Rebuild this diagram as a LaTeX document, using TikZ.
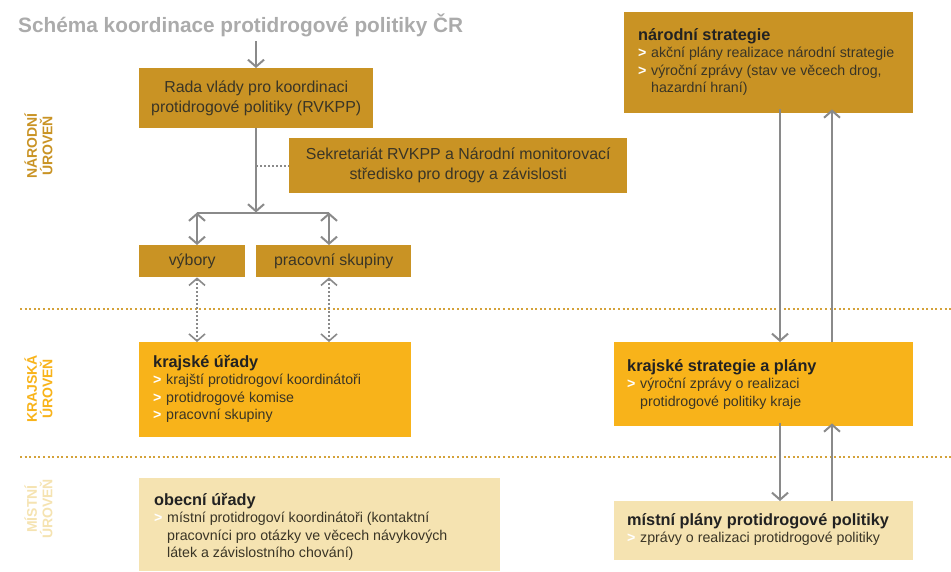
\documentclass[tikz,border=0pt]{standalone}
\usepackage{fontspec}
\setmainfont{Liberation Sans}
\usetikzlibrary{arrows.meta}
\definecolor{gdark}{HTML}{C99324}
\definecolor{gbright}{HTML}{F8B31A}
\definecolor{glight}{HTML}{F5E3B1}
\definecolor{agray}{HTML}{8A8A8A}
\definecolor{tgray}{HTML}{ABABAB}
\definecolor{txt}{HTML}{3A3526}
\definecolor{head}{HTML}{222222}
\definecolor{sepc}{HTML}{D4A23A}
\newcommand{\blt}{\makebox[13pt][l]{\textcolor{white}{\bfseries >}}}
\newcommand{\ind}{\hspace*{13pt}}
\newcommand{\hd}[1]{{\fontsize{16.3}{18}\selectfont\bfseries\color{head}#1}}
\newcommand{\lst}[1]{\parbox[t]{300pt}{\raggedright\fontsize{14.2}{17.6}\selectfont\leavevmode #1}}
\begin{document}
\begin{tikzpicture}[x=1pt,y=-1pt,
  boxshape/.style={inner sep=0pt, anchor=north west, draw=none},
  ctext/.style={align=center, text=txt, font=\fontsize{15.9}{20}\selectfont},
  ltext/.style={inner sep=0pt, anchor=base west, text=txt},
  lab/.style={rotate=90, align=center, inner sep=0pt, font=\fontsize{14}{15.5}\selectfont\bfseries},
  arr/.style={draw=agray, line width=2pt, -{Straight Barb[length=7pt,width=16pt]}},
  darr/.style={draw=agray, line width=2pt, {Straight Barb[length=7pt,width=16pt]}-{Straight Barb[length=7pt,width=16pt]}},
  dotarr/.style={draw=agray, line width=1.6pt, dash pattern=on 1.6pt off 2.4pt, {Straight Barb[length=7pt,width=16pt]}-{Straight Barb[length=7pt,width=16pt]}},
  sep/.style={draw=sepc, line width=2pt, dash pattern=on 2pt off 2.6pt},
  dotline/.style={draw=agray, line width=1.6pt, dash pattern=on 1.6pt off 2.4pt}]
\useasboundingbox (0,0) rectangle (951,571);

% separators
\coordinate (s1a) at (20,309); \coordinate (s1b) at (951,309);
\coordinate (s2a) at (20,457); \coordinate (s2b) at (951,457);
\draw[sep] (s1a) -- (s1b);
\draw[sep] (s2a) -- (s2b);

% level labels
\node[lab, text=gdark] (lnar) at (38.5,146) {NÁRODNÍ\\ÚROVEŇ};
\node[lab, text=gbright] (lkraj) at (38.5,389) {KRAJSKÁ\\ÚROVEŇ};
\node[lab, text=glight] (lmist) at (38.5,509) {MÍSTNÍ\\ÚROVEŇ};

% title
\node[anchor=base west, inner sep=0pt, text=tgray, font=\fontsize{20.8}{24}\selectfont\bfseries] (title) at (18,32) {Schéma koordinace protidrogové politiky ČR};

% left column boxes
\node[boxshape, fill=gdark, minimum width=234pt, minimum height=60pt] (rada) at (139,68) {};
\node[ctext] (radat) at (rada.center) {Rada vlády pro koordinaci\\protidrogové politiky (RVKPP)};
\node[boxshape, fill=gdark, minimum width=338pt, minimum height=55pt] (sekr) at (289,138) {};
\node[ctext] (sekrt) at (sekr.center) {Sekretariát RVKPP a Národní monitorovací\\středisko pro drogy a závislosti};
\node[boxshape, fill=gdark, minimum width=106pt, minimum height=32pt] (vyb) at (139,245) {};
\node[ctext] (vybt) at (vyb.center) {výbory};
\node[boxshape, fill=gdark, minimum width=155pt, minimum height=32pt] (prac) at (256,245) {};
\node[ctext] (pract) at (prac.center) {pracovní skupiny};

\node[boxshape, fill=gbright, minimum width=272pt, minimum height=95pt] (kuj) at (139,342) {};
\node[ltext] (kujt) at (153,367) {\lst{\hd{krajské úřady}\\\blt krajští protidrogoví koordinátoři\\\blt protidrogové komise\\\blt pracovní skupiny}};

\node[boxshape, fill=glight, minimum width=361pt, minimum height=93pt] (obec) at (139,478) {};
\node[ltext] (obect) at (154,505) {\lst{\hd{obecní úřady}\\\blt místní protidrogoví koordinátoři (kontaktní\\\ind pracovníci pro otázky ve věcech návykových\\\ind látek a závislostního chování)}};

% right column boxes
\node[boxshape, fill=gdark, minimum width=289pt, minimum height=101pt] (nstr) at (624,12) {};
\node[ltext] (nstrt) at (638,40) {\lst{\hd{národní strategie}\\\blt akční plány realizace národní strategie\\\blt výroční zprávy (stav ve věcech drog,\\\ind hazardní hraní)}};

\node[boxshape, fill=gbright, minimum width=299pt, minimum height=84pt] (kstr) at (614,342) {};
\node[ltext] (kstrt) at (627,371) {\lst{\hd{krajské strategie a plány}\\\blt výroční zprávy o realizaci\\\ind protidrogové politiky kraje}};

\node[boxshape, fill=glight, minimum width=299pt, minimum height=59pt] (mpl) at (614,501) {};
\node[ltext] (mplt) at (627,525) {\lst{\hd{místní plány protidrogové politiky}\\\blt zprávy o realizaci protidrogové politiky}};

% connectors, left
\coordinate (topin) at (256,41);
\draw[arr] (topin) -- (rada.north -| topin);
\coordinate (fork) at (256,212.5);
\draw[arr] (rada.south -| fork) -- (fork);
\coordinate (forkL) at (197,212.5);
\coordinate (forkR) at (329,212.5);
\draw[draw=agray, line width=2pt] (forkL) -- (forkR);
\coordinate (dotend) at (256,166);
\draw[dotline] (dotend) -- (sekr.west |- dotend);
\draw[darr] (forkL) -- (vyb.north -| forkL);
\draw[darr] (forkR) -- (prac.north -| forkR);
\draw[dotarr] (vyb.south -| forkL) -- (kuj.north -| forkL);
\draw[dotarr] (prac.south -| forkR) -- (kuj.north -| forkR);

% connectors, right
\coordinate (dnx) at (780,0);
\coordinate (upx) at (832,0);
\draw[arr] ([yshift=4pt]nstr.south -| dnx) -- (kstr.north -| dnx);
\draw[arr] (kstr.north -| upx) -- ([yshift=4pt]nstr.south -| upx);
\draw[arr] ([yshift=3pt]kstr.south -| dnx) -- (mpl.north -| dnx);
\draw[arr] (mpl.north -| upx) -- ([yshift=3pt]kstr.south -| upx);
\end{tikzpicture}
\end{document}
